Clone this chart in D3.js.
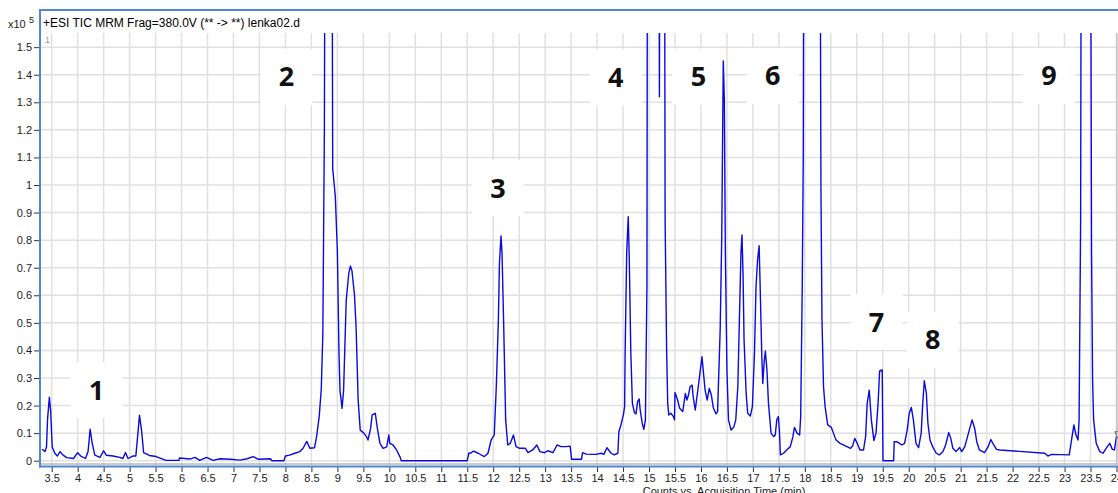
<!DOCTYPE html>
<html><head><meta charset="utf-8">
<script src="https://cdn.jsdelivr.net/npm/d3@7"></script>
<style>
html,body{margin:0;padding:0;background:#fff;overflow:hidden;}
svg{display:block;font-family:"Liberation Sans",Arial,sans-serif;}
</style></head><body>
<svg id="chart" width="1118" height="493"></svg>
<script>
// Acquisition time (min) and TIC counts (x10^5)
const retentionTime = [
3.31,3.33,3.37,3.40,3.42,3.455,3.48,3.51,3.56,3.61,3.66,3.72,3.79,3.92,4.00,4.06,4.15,4.20,4.24,4.28,
4.33,4.43,4.50,4.55,4.68,4.81,4.87,4.92,4.97,5.06,5.12,5.16,5.19,5.23,5.27,5.38,5.51,5.70,5.95,5.96,
6.06,6.16,6.26,6.35,6.48,6.61,6.74,6.94,7.13,7.26,7.38,7.48,7.71,7.74,7.97,8.00,8.08,8.18,8.28,8.34,
8.41,8.47,8.56,8.60,8.65,8.69,8.72,8.75,8.775,8.885,8.91,8.94,8.96,9.00,9.03,9.05,9.09,9.12,9.17,9.22,
9.25,9.28,9.33,9.36,9.40,9.44,9.51,9.56,9.59,9.64,9.67,9.73,9.77,9.82,9.88,9.95,9.99,10.01,10.07,10.14,
10.21,10.23,11.50,11.53,11.58,11.62,11.71,11.83,11.90,11.96,12.02,12.06,12.10,12.12,12.15,12.17,12.20,12.24,12.28,12.33,
12.39,12.44,12.51,12.57,12.62,12.67,12.76,12.84,12.90,12.99,13.05,13.15,13.23,13.31,13.40,13.48,13.51,13.70,13.72,13.79,
13.88,13.98,14.08,14.13,14.19,14.27,14.33,14.40,14.42,14.46,14.51,14.53,14.54,14.57,14.60,14.62,14.65,14.68,14.72,14.75,
14.78,14.81,14.83,14.87,14.90,14.93,14.96,14.975,15.18,15.20,15.22,15.29,15.31,15.34,15.36,15.38,15.42,15.47,15.49,15.50,
15.55,15.59,15.65,15.70,15.73,15.76,15.79,15.83,15.85,15.89,15.94,15.98,16.02,16.04,16.08,16.12,16.16,16.20,16.24,16.29,
16.32,16.37,16.40,16.42,16.43,16.45,16.47,16.50,16.53,16.58,16.63,16.67,16.71,16.74,16.77,16.79,16.81,16.83,16.87,16.90,
16.95,16.99,17.03,17.06,17.09,17.12,17.14,17.17,17.19,17.22,17.24,17.27,17.30,17.35,17.40,17.43,17.46,17.49,17.51,17.53,
17.59,17.65,17.72,17.77,17.80,17.85,17.90,17.92,17.95,17.97,17.99,18.28,18.31,18.33,18.36,18.39,18.44,18.51,18.55,18.60,
18.68,18.78,18.88,18.92,18.96,19.01,19.06,19.13,19.17,19.20,19.24,19.28,19.33,19.37,19.41,19.44,19.49,19.505,19.71,19.72,
19.77,19.82,19.87,19.92,19.97,20.01,20.05,20.09,20.14,20.19,20.24,20.27,20.30,20.34,20.37,20.41,20.46,20.53,20.59,20.66,
20.71,20.77,20.81,20.85,20.91,20.98,21.02,21.08,21.14,21.22,21.27,21.31,21.36,21.46,21.53,21.58,21.62,21.69,21.75,22.62,
22.68,22.75,23.09,23.13,23.18,23.22,23.26,23.28,23.29,23.31,23.33,23.49,23.52,23.54,23.56,23.61,23.68,23.74,23.80,23.87,
23.92,23.96,24.00,24.05
];
const intensity = [
0.040,0.040,0.033,0.050,0.150,0.230,0.180,0.050,0.027,0.017,0.033,0.020,0.011,0.008,0.029,0.017,0.008,0.033,0.114,0.063,
0.020,0.012,0.036,0.020,0.017,0.012,0.008,0.030,0.008,0.017,0.017,0.100,0.165,0.110,0.029,0.019,0.015,0.001,0.001,0.010,
0.008,0.006,0.012,0.001,0.012,0.001,0.007,0.005,0.002,0.007,0.015,0.005,0.007,0.000,0.000,0.017,0.020,0.027,0.033,0.045,
0.070,0.045,0.047,0.087,0.160,0.260,0.460,1.200,3.000,3.000,1.060,1.000,0.960,0.760,0.400,0.256,0.190,0.256,0.580,0.680,
0.706,0.690,0.600,0.486,0.220,0.111,0.100,0.087,0.075,0.117,0.166,0.172,0.117,0.063,0.045,0.050,0.093,0.063,0.057,0.039,
0.012,0.000,0.000,0.027,0.029,0.035,0.027,0.015,0.027,0.075,0.093,0.270,0.510,0.716,0.815,0.752,0.510,0.148,0.057,0.063,
0.093,0.051,0.045,0.045,0.045,0.029,0.039,0.057,0.033,0.029,0.036,0.029,0.057,0.051,0.051,0.053,0.005,0.005,0.029,0.024,
0.023,0.023,0.027,0.023,0.047,0.027,0.021,0.027,0.105,0.130,0.170,0.196,0.390,0.752,0.885,0.730,0.390,0.208,0.174,0.170,
0.214,0.224,0.184,0.135,0.114,0.148,0.630,3.000,3.000,1.320,3.000,3.000,0.870,0.390,0.208,0.166,0.172,0.160,0.148,0.247,
0.220,0.190,0.178,0.244,0.220,0.238,0.268,0.274,0.232,0.184,0.256,0.317,0.377,0.335,0.256,0.220,0.262,0.238,0.190,0.170,
0.178,0.474,0.810,1.240,1.450,1.310,0.752,0.330,0.148,0.111,0.121,0.148,0.268,0.510,0.752,0.819,0.680,0.437,0.244,0.172,
0.162,0.196,0.390,0.630,0.728,0.780,0.630,0.390,0.280,0.365,0.398,0.330,0.208,0.100,0.087,0.093,0.148,0.160,0.111,0.021,
0.027,0.039,0.051,0.087,0.121,0.100,0.093,0.160,0.630,1.110,3.000,3.000,0.990,0.510,0.268,0.196,0.130,0.121,0.100,0.075,
0.063,0.054,0.045,0.053,0.081,0.063,0.039,0.039,0.087,0.208,0.256,0.148,0.073,0.100,0.208,0.326,0.329,0.000,0.000,0.069,
0.069,0.063,0.057,0.063,0.111,0.172,0.193,0.148,0.063,0.047,0.100,0.208,0.290,0.244,0.135,0.075,0.051,0.027,0.021,0.033,
0.057,0.102,0.081,0.045,0.033,0.048,0.033,0.051,0.093,0.148,0.117,0.069,0.039,0.029,0.051,0.077,0.063,0.041,0.039,0.027,
0.017,0.023,0.021,0.069,0.130,0.093,0.075,0.148,0.390,0.873,3.000,3.000,0.752,0.293,0.148,0.063,0.033,0.027,0.045,0.063,
0.041,0.039,0.087,0.110
];
const xTickValues = [3.5,4,4.5,5,5.5,6,6.5,7,7.5,8,8.5,9,9.5,10,10.5,11,11.5,12,12.5,13,13.5,14,14.5,15,15.5,16,16.5,17,17.5,18,18.5,19,19.5,20,20.5,21,21.5,22,22.5,23,23.5,24];
const xTickLabels = ["3.5","4","4.5","5","5.5","6","6.5","7","7.5","8","8.5","9","9.5","10","10.5","11","11.5","12","12.5","13","13.5","14","14.5","15","15.5","16","16.5","17","17.5","18","18.5","19","19.5","20","20.5","21","21.5","22","22.5","23","23.5","24"];
const yTickValues = [0,0.1,0.2,0.3,0.4,0.5,0.6,0.7,0.8,0.9,1,1.1,1.2,1.3,1.4,1.5];
const yTickLabels = ["0","0.1","0.2","0.3","0.4","0.5","0.6","0.7","0.8","0.9","1","1.1","1.2","1.3","1.4","1.5"];
const peakNumbers = ["1","2","3","4","5","6","7","8","9"];
const peakLabelTime = [4.36,8.02,12.09,14.36,15.95,17.38,19.38,20.46,22.70];
const peakLabelLevel = [0.256,1.392,0.989,1.390,1.392,1.396,0.503,0.438,1.396];
const chartTitle = "+ESI TIC MRM Frag=380.0V (** -> **) lenka02.d";
const xAxisTitle = "Counts vs. Acquisition Time (min)";
const yScaleLabel = "x10";
const yScaleExp = "5";

const svg = d3.select("#chart");
const L = 40, R = 1117, T = 33, B = 465;
const x = d3.scaleLinear().domain([3.2747, 24.01]).range([L, R]);
const y = d3.scaleLinear().domain([0, 1.5513]).range([460.7, T]);

svg.append("defs").append("clipPath").attr("id","plotclip")
  .append("rect").attr("x",L).attr("y",T).attr("width",R-L).attr("height",B-T);

// gridlines
const grid = svg.append("g");
grid.selectAll("line.v").data(xTickValues).join("line")
  .attr("x1",d=>x(d)).attr("x2",d=>x(d)).attr("y1",T).attr("y2",B)
  .attr("stroke","#e0e0e0").attr("stroke-width",1.5);
grid.selectAll("line.h").data(yTickValues).join("line")
  .attr("x1",L).attr("x2",R).attr("y1",d=>y(d)).attr("y2",d=>y(d))
  .attr("stroke","#e0e0e0").attr("stroke-width",1.5);

// label backing boxes
const labels = peakNumbers.map((n,i)=>({n, t:peakLabelTime[i], v:peakLabelLevel[i]}));
svg.append("g").selectAll("rect").data(labels).join("rect")
  .attr("x",d=>x(d.t)-26).attr("y",d=>y(d.v)-28).attr("width",52).attr("height",56)
  .attr("fill","#ffffff");

// trace
const line = d3.line().x(d=>x(d[0])).y(d=>y(d[1]));
const pts = retentionTime.map((t,i)=>[t,intensity[i]]);
svg.append("g").attr("clip-path","url(#plotclip)")
  .append("path").datum(pts).attr("d",line)
  .attr("fill","none").attr("stroke","#0a0ae0").attr("stroke-width",1.4)
  .attr("stroke-linejoin","round");

// peak numbers
svg.append("g").selectAll("text").data(labels).join("text")
  .attr("x",d=>x(d.t)).attr("y",d=>y(d.v)+9.5)
  .attr("text-anchor","middle")
  .style("font-family","'Open Sans','Liberation Sans',sans-serif")
  .style("font-weight","700").style("font-size","27px").attr("fill","#111")
  .text(d=>d.n);

// small marker at right edge
svg.append("path")
  .attr("d",`M${x(23.97)},${y(0.105)} L${x(24.1)},${y(0.105)} L${x(24.03)},${y(0.08)} Z`)
  .attr("fill","none").attr("stroke","#555").attr("stroke-width",1);

// title area
svg.append("rect").attr("x",L).attr("y",10).attr("width",R-L+2).attr("height",T-10).attr("fill","#fff");
svg.append("text").attr("x",43).attr("y",26.5).style("font-size","12px").attr("fill","#000").text(chartTitle);
svg.append("text").attr("x",8).attr("y",28).style("font-size","11px").attr("fill","#222").text(yScaleLabel);
svg.append("text").attr("x",29).attr("y",22.5).style("font-size","9px").attr("fill","#222").text(yScaleExp);
svg.append("text").attr("x",45).attr("y",43).style("font-size","9px").attr("fill","#999").text("1");

// axes
const xAxis = d3.axisBottom(x).tickValues(xTickValues).tickFormat((d,i)=>xTickLabels[i]).tickSize(5).tickSizeOuter(0);
const gx = svg.append("g").attr("transform",`translate(0,467)`).call(xAxis);
gx.select(".domain").remove();
gx.selectAll(".tick line").attr("stroke","#333");
gx.selectAll(".tick text").style("font-size","11px").attr("fill","#222").attr("y",7);

const yAxis = d3.axisLeft(y).tickValues(yTickValues).tickFormat((d,i)=>yTickLabels[i]).tickSize(6).tickPadding(2).tickSizeOuter(0);
const gy = svg.append("g").attr("transform",`translate(${L},0)`).call(yAxis);
gy.select(".domain").remove();
gy.selectAll(".tick line").attr("stroke","#333");
gy.selectAll(".tick text").style("font-size","11px").attr("fill","#222");

// frame
svg.append("line").attr("x1",L).attr("x2",R).attr("y1",464).attr("y2",464).attr("stroke","#999").attr("stroke-width",1);
svg.append("line").attr("x1",L-1).attr("x2",1118).attr("y1",466.5).attr("y2",466.5).attr("stroke","#4f86d6").attr("stroke-width",2.2);
svg.append("line").attr("x1",L).attr("x2",L).attr("y1",10).attr("y2",467.5).attr("stroke","#4f86d6").attr("stroke-width",2);
svg.append("line").attr("x1",L-1).attr("x2",1118).attr("y1",10).attr("y2",10).attr("stroke","#4f86d6").attr("stroke-width",2);
svg.append("line").attr("x1",R).attr("x2",R).attr("y1",T).attr("y2",B).attr("stroke","#aaa").attr("stroke-width",1);

svg.append("text").attr("x",724).attr("y",495).attr("text-anchor","middle")
  .style("font-size","11px").attr("fill","#222").text(xAxisTitle);
</script>
</body></html>
